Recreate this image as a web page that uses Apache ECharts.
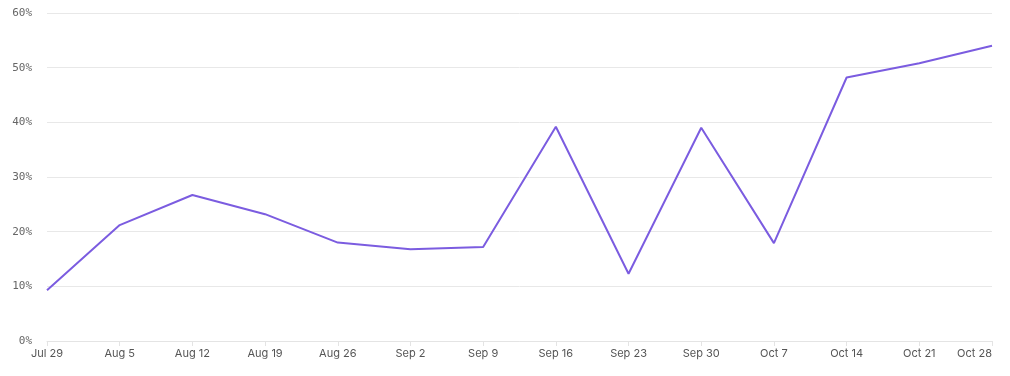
<!DOCTYPE html>
<html style="height: 100%">
<head>
<meta charset="utf-8">
<script src="https://cdn.jsdelivr.net/npm/echarts@6/dist/echarts.min.js"></script>
</head>
<body style="height: 100%; margin: 0; background: #fff">
<div id="container" style="width: 1010px; height: 376px"></div>
<script>
var weeks = ['Jul 29', 'Aug 5', 'Aug 12', 'Aug 19', 'Aug 26', 'Sep 2', 'Sep 9',
  'Sep 16', 'Sep 23', 'Sep 30', 'Oct 7', 'Oct 14', 'Oct 21', 'Oct 28'];
var rates = [9.3, 21.2, 26.7, 23.2, 18.0, 16.8, 17.2, 39.2, 12.3, 39.0, 17.9, 48.2, 50.8, 54.0];

var myChart = echarts.init(document.getElementById('container'));
var option = {
  animation: false,
  grid: { left: 47, right: 18, top: 13, bottom: 35 },
  xAxis: {
    type: 'category',
    boundaryGap: false,
    data: weeks,
    axisLine: { lineStyle: { color: '#e4e4e4' } },
    axisTick: { length: 5, lineStyle: { color: '#e4e4e4' } },
    axisLabel: {
      color: '#555',
      fontFamily: 'Inter',
      fontSize: 11,
      margin: 7,
      alignMaxLabel: 'right'
    }
  },
  yAxis: {
    type: 'value',
    min: 0,
    max: 60,
    interval: 10,
    axisLine: { show: false },
    axisTick: { show: false },
    splitLine: { lineStyle: { color: '#e8e8e8' } },
    axisLabel: {
      color: '#666',
      fontFamily: 'DejaVu Sans Mono',
      fontSize: 11,
      margin: 15,
      formatter: '{value}%'
    }
  },
  series: [{
    type: 'line',
    data: rates,
    symbol: 'none',
    lineStyle: { color: '#7b5ce0', width: 2 }
  }]
};
myChart.setOption(option);
</script>
</body>
</html>
